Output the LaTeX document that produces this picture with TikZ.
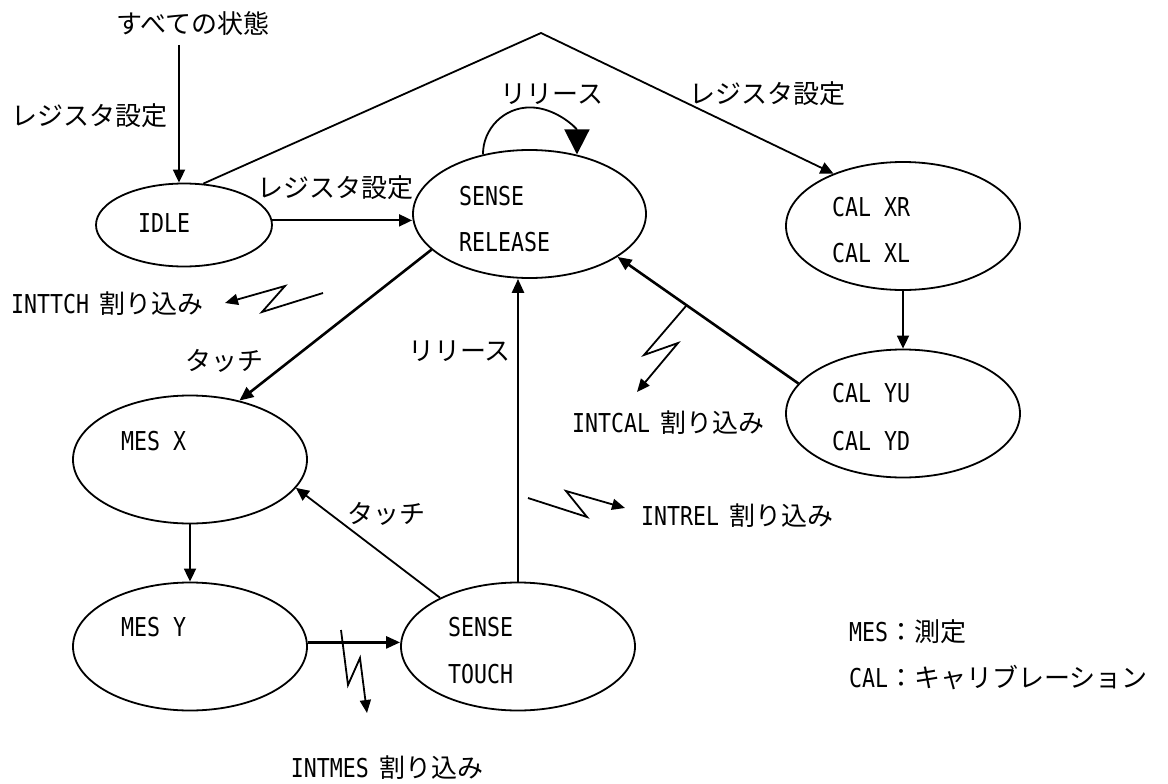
\documentclass[tikz,border=0pt]{standalone}
\usepackage{fontspec}
\setmainfont{Noto Sans CJK JP}
\newfontfamily\lat[FakeStretch=0.83]{DejaVu Sans Mono}
\usetikzlibrary{arrows.meta,shapes.geometric}
\begin{document}
\begin{tikzpicture}[x=1pt,y=-1pt,
  st/.style={draw,ellipse,line width=1.8pt,inner sep=0pt,minimum width=234pt,minimum height=128pt},
  intxt/.style={anchor=west,inner sep=0pt,font=\fontsize{26}{30}\selectfont\lat},
  jlbl/.style={inner sep=0pt,font=\fontsize{26}{30}\selectfont},
  jlblw/.style={jlbl,anchor=west},
  arr/.style={line width=1.8pt,-{Triangle[width=12pt,length=13pt]}},
  arrT/.style={line width=2.6pt,-{Triangle[width=12pt,length=14pt]}},
  bolt/.style={line width=1.8pt,line join=miter,-{Triangle[width=11pt,length=13pt]}},
  bigtip/.style={line width=1.8pt,-{Triangle[width=25pt,length=25pt]}}]
\useasboundingbox (0,0) rectangle (1168,784);

% states
\node[st,minimum width=176pt,minimum height=83pt] (idle) at (184,225) {};
\node[st,minimum width=233pt] (srel) at (529.5,214) {};
\node[st] (calx) at (903,226) {};
\node[st] (caly) at (903,413.5) {};
\node[st] (mesx) at (190,459.5) {};
\node[st] (mesy) at (190,646.5) {};
\node[st] (stouch) at (518,646.5) {};

% state texts
\node[intxt] (tidle) at (138,223) {IDLE};
\node[intxt] (tsr1) at (459,196) {SENSE};
\node[intxt] (tsr2) at (459,242) {RELEASE};
\node[intxt] (tcx1) at (832,207) {CAL XR};
\node[intxt] (tcx2) at (832,253) {CAL XL};
\node[intxt] (tcy1) at (832,393) {CAL YU};
\node[intxt] (tcy2) at (832,441) {CAL YD};
\node[intxt] (tmx) at (121,441) {MES X};
\node[intxt] (tmy) at (121,627) {MES Y};
\node[intxt] (tst1) at (448,627) {SENSE};
\node[intxt] (tst2) at (448,674) {TOUCH};

% labels
\node[jlbl] (all) at (193,24) {すべての状態};
\node[jlbl] (l1) at (90,116) {レジスタ設定};
\node[jlbl] (l2) at (335,188) {レジスタ設定};
\node[jlbl] (l3) at (767,94) {レジスタ設定};
\node[jlbl] (l4) at (552,94) {リリース};
\node[jlbl] (l5) at (224,361) {タッチ};
\node[jlbl] (l6) at (459.5,351) {リリース};
\node[jlbl] (l7) at (386,514) {タッチ};
\node[jlblw] (i1) at (11,304) {{\lat INTTCH}\, 割り込み};
\node[jlblw] (i2) at (572,423) {{\lat INTCAL}\, 割り込み};
\node[jlblw] (i3) at (641,516) {{\lat INTREL}\, 割り込み};
\node[jlbl] (i4) at (387,768) {{\lat INTMES}\, 割り込み};
\node[jlblw] (lg1) at (849,632) {{\lat MES}：測定};
\node[jlblw] (lg2) at (849,678) {{\lat CAL}：キャリブレーション};

% connectors
\coordinate (allpt) at (179,45);
\draw[arr] (allpt) -- (allpt |- idle.north);
\coordinate (apex) at (541,33);
\draw[arr] (idle.65) -- (apex) -- (calx.143);
\draw[arr] (idle.3) -- (idle.3 -| srel.west);
\draw[bigtip] (srel.128) arc[start angle=180,end angle=360,radius=47];
\draw[arr] (calx.south) -- (caly.north);
\draw[arrT] (caly.164) -- (srel.-26);
\draw[arrT] (srel.200) -- (mesx.50);
\draw[arrT] (stouch.north) -- (stouch.north |- srel.south);
\draw[arr] (stouch.148) -- (mesx.-15);
\draw[arr] (mesx.south) -- (mesy.north);
\draw[arrT] (mesy.2) -- (mesy.2 -| stouch.west);

% interrupt bolts
\coordinate (b1s) at (323,293); \coordinate (b1t) at (225,303);
\draw[bolt] (b1s) -- (262,312) -- (285,286) -- (b1t);
\coordinate (b2s) at (686,306); \coordinate (b2t) at (637,392);
\draw[bolt] (b2s) -- (644,355) -- (678,343) -- (b2t);
\coordinate (b3s) at (528,498); \coordinate (b3t) at (625,508);
\draw[bolt] (b3s) -- (587,517) -- (566,491) -- (b3t);
\coordinate (b4s) at (341,630); \coordinate (b4t) at (367,713);
\draw[bolt] (b4s) -- (348,685) -- (360,658) -- (b4t);
\end{tikzpicture}
\end{document}
